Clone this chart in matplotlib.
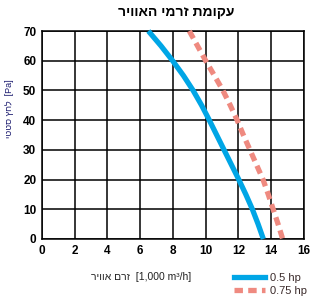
import matplotlib
matplotlib.use("Agg")
import matplotlib.pyplot as plt
from matplotlib.lines import Line2D

# static pressure [Pa]
pressure = [70, 65, 60, 55, 50, 45, 40, 35, 30, 25, 20, 15, 10, 5, 0]
# airflow [1,000 m3/h]
flow_05hp = [6.5, 7.27, 7.98, 8.64, 9.23, 9.75, 10.22, 10.67, 11.12, 11.57,
             12.02, 12.45, 12.85, 13.2, 13.52]
flow_075hp = [9.0, 9.5, 10.0, 10.53, 11.05, 11.5, 11.92, 12.3, 12.7, 13.1,
              13.5, 13.82, 14.12, 14.42, 14.7]

x_ticks = [0, 2, 4, 6, 8, 10, 12, 14, 16]
y_ticks = [0, 10, 20, 30, 40, 50, 60, 70]
series_names = ["0.5 hp", "0.75 hp"]

# hebrew strings are kept in visual order (matplotlib has no bidi)
title = "ריוואה ימרז תמוקע"
xlabel = "ריווא םרז  [1,000 m\u00b3/h]"
ylabel = "יטטס ץחל  [Pa]"

blue = "#00a6e6"
salmon = "#ef8a80"
dash = (1.6, 1.0)

plt.rcParams["font.family"] = ["Liberation Sans", "DejaVu Sans"]

fig = plt.figure(figsize=(3.15, 3.01), dpi=100)
ax = fig.add_axes([0.133, 0.206, 0.832, 0.691])

ax.plot(flow_05hp, pressure, color=blue, lw=3.8, solid_capstyle="butt",
        solid_joinstyle="round", zorder=3, clip_on=False)
ax.plot(flow_075hp, pressure, color=salmon, lw=3.8, dashes=dash,
        dash_capstyle="butt", zorder=3, clip_on=False)

ax.set_xlim(0, 16)
ax.set_ylim(0, 70)
ax.set_xticks(x_ticks)
ax.set_yticks(y_ticks)
ax.grid(True, color="black", lw=1.1)
for s in ax.spines.values():
    s.set_linewidth(1.1)
ax.tick_params(length=0, pad=4, labelsize=8.5)
for lab in ax.get_xticklabels() + ax.get_yticklabels():
    lab.set_fontweight("bold")

fig.text(0.559, 0.96, title, ha="center", va="center", fontsize=10,
         fontweight="bold")
fig.text(0.448, 0.08, xlabel, ha="center", va="center", fontsize=7.5,
         color="#222222")
fig.text(0.03, 0.64, ylabel, ha="center", va="center", rotation=90,
         fontsize=6.5, color="#1a1a6e")

handles = [Line2D([], [], color=blue, lw=3.8),
           Line2D([], [], color=salmon, lw=3.8, dashes=dash)]
fig.legend(handles, series_names, loc="center left",
           bbox_to_anchor=(0.71, 0.055), frameon=False, fontsize=8,
           handlelength=2.8, handletextpad=0.5, labelspacing=0.2,
           labelcolor="#3a2a2a")

fig.savefig("out.png", dpi=100)
